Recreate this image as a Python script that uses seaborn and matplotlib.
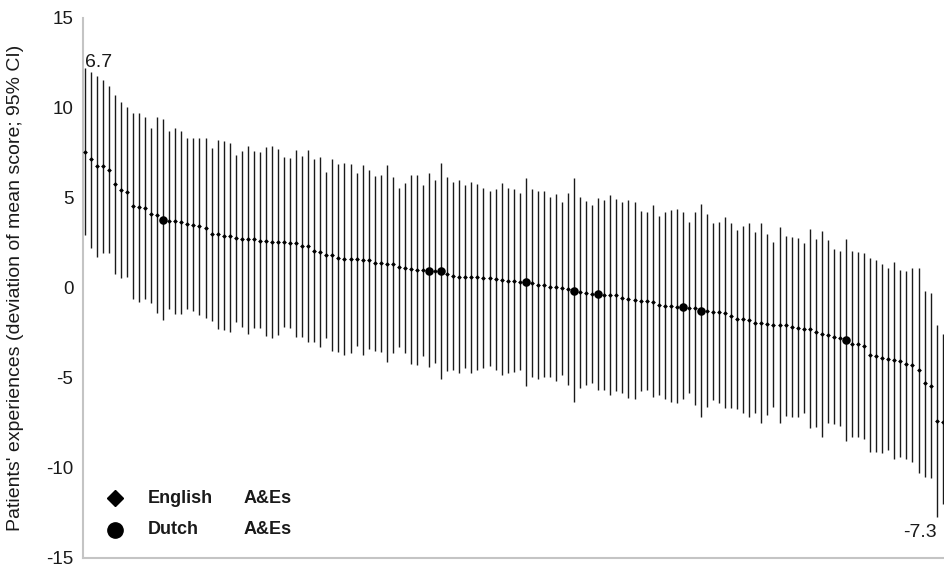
import matplotlib
matplotlib.use("Agg")
import matplotlib.pyplot as plt
import numpy as np
import pandas as pd
import seaborn as sns

# mean deviation per A&E, sorted from best to worst, with 95% CI bounds
mean_score = [
    7.57, 7.15, 6.80, 6.80, 6.57, 5.78, 5.43, 5.31, 4.56, 4.48,
    4.46, 4.11, 4.04, 3.78, 3.74, 3.74, 3.65, 3.56, 3.50, 3.44,
    3.31, 2.98, 2.98, 2.91, 2.87, 2.76, 2.70, 2.70, 2.70, 2.63,
    2.59, 2.57, 2.57, 2.54, 2.50, 2.48, 2.33, 2.31, 2.06, 2.00,
    1.83, 1.83, 1.67, 1.61, 1.59, 1.59, 1.56, 1.56, 1.37, 1.37,
    1.33, 1.31, 1.15, 1.11, 1.06, 1.02, 0.98, 0.96, 0.93, 0.93,
    0.76, 0.67, 0.63, 0.63, 0.61, 0.59, 0.56, 0.56, 0.48, 0.44,
    0.41, 0.41, 0.33, 0.33, 0.30, 0.15, 0.15, 0.06, 0.06, 0.00,
    -0.04, -0.15, -0.22, -0.30, -0.33, -0.35, -0.37, -0.37, -0.41, -0.56,
    -0.59, -0.67, -0.74, -0.74, -0.78, -0.96, -1.00, -1.00, -1.04, -1.04,
    -1.09, -1.13, -1.26, -1.26, -1.31, -1.35, -1.37, -1.54, -1.72, -1.72,
    -1.80, -1.93, -1.96, -2.02, -2.06, -2.07, -2.07, -2.19, -2.24, -2.28,
    -2.28, -2.46, -2.56, -2.61, -2.70, -2.76, -2.89, -3.13, -3.13, -3.20,
    -3.72, -3.76, -3.91, -3.94, -4.00, -4.04, -4.22, -4.28, -4.56, -5.30,
    -5.44, -7.37, -7.46,
]
ci_lower = [
    2.94, 2.20, 1.74, 1.96, 1.96, 0.78, 0.54, 0.63, -0.63, -0.76,
    -0.63, -0.81, -1.41, -1.78, -1.19, -1.44, -1.44, -1.19, -1.26, -1.50,
    -1.69, -1.81, -2.30, -2.33, -2.43, -1.87, -2.19, -2.56, -2.24, -2.24,
    -2.65, -2.76, -2.61, -2.19, -2.24, -2.70, -2.70, -3.02, -3.02, -3.26,
    -2.80, -3.48, -3.54, -3.72, -3.63, -3.20, -3.72, -3.41, -3.48, -3.57,
    -4.09, -3.59, -3.26, -3.59, -4.22, -4.28, -3.78, -4.41, -4.15, -5.07,
    -4.61, -4.56, -4.74, -4.46, -4.70, -4.56, -4.43, -4.33, -4.56, -4.83,
    -4.70, -4.69, -4.56, -5.44, -4.96, -5.07, -4.96, -4.96, -5.15, -4.83,
    -5.39, -6.31, -5.57, -5.39, -5.26, -5.67, -5.67, -5.94, -5.70, -5.85,
    -6.13, -6.19, -5.72, -5.67, -6.07, -5.94, -6.19, -6.35, -6.41, -6.19,
    -5.85, -6.50, -7.15, -6.59, -6.22, -6.41, -6.69, -6.69, -6.72, -6.96,
    -7.19, -6.96, -7.52, -7.06, -6.59, -7.52, -7.09, -7.19, -7.19, -6.96,
    -7.80, -7.70, -8.26, -7.52, -7.56, -7.67, -8.48, -8.30, -8.30, -8.41,
    -9.09, -9.09, -9.15, -9.00, -9.52, -9.37, -9.52, -9.65, -10.26, -10.48,
    -10.57, -12.70, -12.00,
]
ci_upper = [
    12.20, 12.00, 11.80, 11.55, 11.20, 10.70, 10.35, 10.04, 9.70, 9.70,
    9.48, 8.87, 9.52, 9.41, 8.72, 8.87, 8.74, 8.31, 8.31, 8.31,
    8.31, 7.76, 8.22, 8.19, 8.07, 7.39, 7.61, 7.91, 7.61, 7.54,
    7.81, 7.91, 7.70, 7.26, 7.24, 7.67, 7.35, 7.67, 7.15, 7.26,
    6.46, 7.17, 6.87, 6.93, 6.87, 6.41, 6.81, 6.54, 6.24, 6.28,
    6.81, 6.15, 5.57, 5.81, 6.26, 6.26, 5.72, 6.37, 6.00, 6.93,
    6.18, 5.91, 6.00, 5.72, 5.91, 5.78, 5.54, 5.41, 5.48, 5.81,
    5.54, 5.52, 5.26, 6.09, 5.48, 5.41, 5.37, 5.07, 5.22, 4.80,
    5.26, 6.09, 5.07, 4.85, 4.61, 4.98, 4.89, 5.17, 4.93, 4.78,
    4.89, 4.80, 4.30, 4.24, 4.61, 4.00, 4.22, 4.33, 4.41, 4.24,
    3.69, 4.24, 4.67, 4.09, 3.59, 3.69, 3.93, 3.63, 3.22, 3.46,
    3.59, 3.09, 3.59, 3.00, 2.54, 3.41, 2.91, 2.81, 2.76, 2.48,
    3.26, 2.72, 3.19, 2.67, 2.15, 2.06, 2.72, 2.07, 1.98, 1.93,
    1.65, 1.56, 1.31, 1.09, 1.46, 1.00, 0.94, 1.09, 1.09, -0.15,
    -0.26, -2.06, -2.57,
]
# ranks (1-based) of the Dutch A&Es among all departments
dutch_rank = [14, 58, 60, 74, 82, 86, 100, 103, 127]
end_labels = ["6.7", "-7.3"]
y_ticks = [-15, -10, -5, 0, 5, 10, 15]

sns.set_style("white")
plt.rcParams["font.family"] = ["Liberation Sans", "DejaVu Sans"]

df = pd.DataFrame({
    "rank": np.arange(1, len(mean_score) + 1),
    "mean": mean_score,
    "lo": ci_lower,
    "hi": ci_upper,
})
df["country"] = np.where(df["rank"].isin(dutch_rank), "Dutch", "English")

fig = plt.figure(figsize=(9.44, 5.73), dpi=100)
ax = fig.add_axes([0.0879, 0.0262, 0.9121, 0.9424])

ax.vlines(df["rank"], df["lo"], df["hi"], color="#1a1a1a", linewidth=1.0, zorder=2)
eng = df[df["country"] == "English"]
dut = df[df["country"] == "Dutch"]
sns.scatterplot(data=eng, x="rank", y="mean", marker="D", s=6, color="black",
                linewidth=0, ax=ax, zorder=3)
sns.scatterplot(data=dut, x="rank", y="mean", marker="o", s=38, color="black",
                linewidth=0, ax=ax, zorder=4)

ax.set_xlim(df["rank"].min() - 0.28, df["rank"].max() + 0.22)
ax.set_ylim(-15, 15)
ax.set_yticks(y_ticks)
ax.set_yticklabels([str(t) for t in y_ticks])
ax.set_xticks([])
ax.set_xlabel("")
ax.set_ylabel("Patients' experiences (deviation of mean score; 95% CI)", fontsize=14,
              color="#1a1a1a")
ax.yaxis.set_label_coords(-0.0685, 0.5)

for side in ["top", "right"]:
    ax.spines[side].set_visible(False)
for side in ["left", "bottom"]:
    ax.spines[side].set_color("#c4c4c4")
    ax.spines[side].set_linewidth(1.5)
ax.tick_params(axis="y", length=3, width=1.2, color="#c4c4c4", labelsize=13.5,
               pad=4, labelcolor="#1a1a1a")

# labels of the extreme scores
ax.text(df["rank"].iloc[0] + 0.1, df["hi"].iloc[0] + 0.08, end_labels[0],
        fontsize=14, ha="left", va="baseline", color="#1a1a1a")
ax.text(df["rank"].iloc[-1] - 0.9, -13.83, end_labels[1],
        fontsize=14, ha="right", va="baseline", color="#1a1a1a")

# legend drawn by hand so the two word columns line up
ax.plot([0.037], [0.111], marker="D", markersize=8, color="black",
        transform=ax.transAxes, clip_on=False)
ax.plot([0.037], [0.052], marker="o", markersize=11, color="black",
        transform=ax.transAxes, clip_on=False)
for ypos, name in [(0.111, "English"), (0.052, "Dutch")]:
    ax.text(0.0755, ypos, name, transform=ax.transAxes, fontsize=13,
            fontweight="bold", va="center", ha="left", color="#1a1a1a")
    ax.text(0.187, ypos, "A&Es", transform=ax.transAxes, fontsize=13,
            fontweight="bold", va="center", ha="left", color="#1a1a1a")

fig.savefig("out.png", dpi=100)
